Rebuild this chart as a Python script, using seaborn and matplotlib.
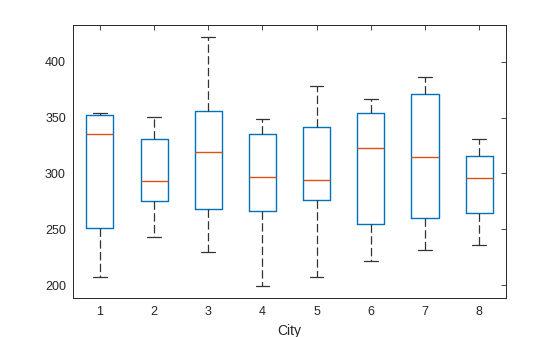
import numpy as np
import pandas as pd
import matplotlib
matplotlib.use("Agg")
import matplotlib.pyplot as plt
import seaborn as sns

cities = ["1", "2", "3", "4", "5", "6", "7", "8"]
lower_whisker = [207, 243, 230, 199, 207.5, 222, 231, 236]
q1 = [251.5, 275, 268, 266, 276, 255, 260, 265]
median = [335, 293.5, 319.5, 296.5, 294.5, 323, 315, 296]
q3 = [352, 330.5, 356, 335.5, 342, 354.5, 371, 316]
upper_whisker = [354, 350.5, 422.5, 348.5, 378, 367, 386, 330.5]

rows = []
for c, lo, a, m, b, hi in zip(cities, lower_whisker, q1, median, q3, upper_whisker):
    for v in (lo, a, m, b, hi):
        rows.append({"City": c, "Value": v})
df = pd.DataFrame(rows)

sns.set_style("white")
plt.rcParams["font.family"] = ["Liberation Sans", "DejaVu Sans"]

fig = plt.figure(figsize=(5.6, 3.37), dpi=100)
ax = fig.add_axes([0.130, 0.116, 0.774, 0.810])

blue = "#0072BD"
orange = "#D95319"
dark = "#262626"

sns.boxplot(data=df, x="City", y="Value", order=cities, whis=np.inf, width=0.5,
            fill=False, ax=ax, linewidth=1.0,
            boxprops=dict(color=blue, linewidth=1.0),
            medianprops=dict(color=orange, linewidth=1.0),
            whiskerprops=dict(color="#333333", linewidth=0.9),
            capprops=dict(color="#333333", linewidth=0.9),
            showfliers=False)

# dashed whiskers like MATLAB (whiskers are vertical lines)
for line in ax.lines:
    xd = np.asarray(line.get_xdata(), dtype=float)
    yd = np.asarray(line.get_ydata(), dtype=float)
    if len(xd) == 2 and np.isclose(xd[0], xd[1]) and not np.isclose(yd[0], yd[1]):
        line.set_dashes((6.7, 2.7))
        line.set_dash_capstyle("butt")

ax.set_xlim(-0.5, 7.5)
ax.set_ylim(188.5, 433)
ax.set_yticks([200, 250, 300, 350, 400])
ax.set_xlabel("City", fontsize=10, color=dark, labelpad=4)
ax.set_ylabel("")
ax.tick_params(axis="both", direction="in", length=3.5, width=0.6, colors=dark,
               labelsize=9, top=True, right=True, labelcolor=dark, pad=6)
ax.tick_params(axis="y", pad=5)
for s in ax.spines.values():
    s.set_visible(True)
    s.set_color(dark)
    s.set_linewidth(0.7)

fig.savefig("out.png", dpi=100)
